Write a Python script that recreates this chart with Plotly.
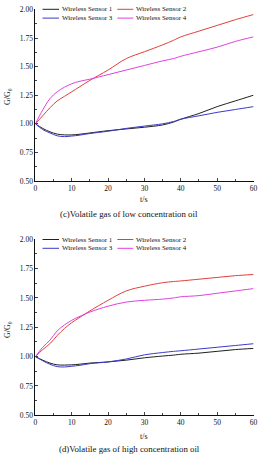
import plotly.graph_objects as go

t = [0, 2, 4, 6, 8, 10, 12, 15, 20, 25, 30, 35, 38, 40, 45, 50, 55, 60]

# (c) low concentration oil
c_s1 = [1.00, 0.96, 0.93, 0.91, 0.903, 0.903, 0.908, 0.92, 0.94, 0.955, 0.97, 0.99, 1.015, 1.04, 1.09, 1.15, 1.20, 1.25]
c_s2 = [1.00, 1.07, 1.14, 1.20, 1.24, 1.28, 1.32, 1.38, 1.47, 1.57, 1.63, 1.69, 1.73, 1.76, 1.81, 1.86, 1.91, 1.955]
c_s3 = [1.00, 0.95, 0.92, 0.895, 0.888, 0.893, 0.90, 0.915, 0.935, 0.96, 0.98, 1.00, 1.02, 1.04, 1.07, 1.10, 1.125, 1.15]
c_s4 = [1.00, 1.12, 1.22, 1.28, 1.32, 1.35, 1.37, 1.39, 1.43, 1.47, 1.51, 1.55, 1.57, 1.59, 1.63, 1.67, 1.72, 1.76]

# (d) high concentration oil
d_s1 = [1.00, 0.97, 0.945, 0.93, 0.928, 0.93, 0.935, 0.945, 0.955, 0.97, 0.99, 1.005, 1.013, 1.02, 1.03, 1.045, 1.06, 1.07]
d_s2 = [1.00, 1.06, 1.11, 1.18, 1.24, 1.29, 1.33, 1.39, 1.48, 1.56, 1.60, 1.63, 1.64, 1.645, 1.66, 1.675, 1.69, 1.70]
d_s3 = [1.00, 0.965, 0.935, 0.915, 0.912, 0.918, 0.925, 0.94, 0.955, 0.98, 1.015, 1.035, 1.045, 1.05, 1.065, 1.08, 1.095, 1.11]
d_s4 = [1.00, 1.08, 1.14, 1.22, 1.27, 1.31, 1.34, 1.38, 1.43, 1.465, 1.48, 1.49, 1.50, 1.51, 1.52, 1.54, 1.56, 1.58]

names = ["Wireless Sensor 1", "Wireless Sensor 2", "Wireless Sensor 3", "Wireless Sensor 4"]
colors = ["#202020", "#e0403c", "#3a3ac8", "#e040e0"]
yticks = [0.50, 0.75, 1.00, 1.25, 1.50, 1.75, 2.00]
xticks = [0, 10, 20, 30, 40, 50, 60]

W, H = 258, 457
FONT = "Liberation Serif, Times New Roman, serif"
INK = "#111"

fig = go.Figure()
for ser, nm, col in zip([c_s1, c_s2, c_s3, c_s4], names, colors):
    fig.add_trace(go.Scatter(x=t, y=ser, mode="lines", name=nm, line=dict(color=col, width=1, shape="spline"),
                             xaxis="x", yaxis="y", showlegend=False))
for ser, nm, col in zip([d_s1, d_s2, d_s3, d_s4], names, colors):
    fig.add_trace(go.Scatter(x=t, y=ser, mode="lines", name=nm, line=dict(color=col, width=1, shape="spline"),
                             xaxis="x2", yaxis="y2", showlegend=False))

xdom = [35.4 / W, 253.5 / W]
top_dom = [1 - 181 / H, 1 - 9.4 / H]
bot_dom = [1 - 415.3 / H, 1 - 239.3 / H]

def xax(anchor):
    return dict(domain=xdom, anchor=anchor, range=[0, 60], tickvals=xticks, ticks="inside", ticklen=3,
                showline=True, linecolor=INK, linewidth=1, showgrid=False, zeroline=False,
                tickfont=dict(family=FONT, size=7.5, color=INK), automargin=False,
                minor=dict(ticks="inside", ticklen=2, dtick=5, tick0=0, showgrid=False))

def yax(dom, anchor):
    return dict(domain=dom, anchor=anchor, range=[0.5, 2.0], tickvals=yticks, ticktext=[f"{v:.2f}" for v in yticks],
                ticks="inside", ticklen=3, showline=True, linecolor=INK, linewidth=1, showgrid=False,
                zeroline=False, tickfont=dict(family=FONT, size=7.5, color=INK), automargin=False,
                minor=dict(ticks="inside", ticklen=2, dtick=0.125, tick0=0.5, showgrid=False))

fig.update_layout(
    width=W, height=H, margin=dict(l=0, r=0, t=0, b=0), plot_bgcolor="white", paper_bgcolor="white",
    xaxis=xax("y"), yaxis=yax(top_dom, "x"),
    xaxis2=xax("y2"), yaxis2=yax(bot_dom, "x2"),
    showlegend=False,
    font=dict(family=FONT, color=INK),
)

# legends (two columns, inside each panel's top-left)
col_x = [(42.5, 59.0, 61.0), (117.3, 133.3, 135.0)]
for row_y0 in (9.3, 239.5):
    for i, (nm, col) in enumerate(zip(names, colors)):
        cx = col_x[i % 2]
        ry = row_y0 + (i // 2) * 8.8
        fig.add_shape(type="line", xref="paper", yref="paper", x0=cx[0] / W, x1=cx[1] / W,
                      y0=1 - ry / H, y1=1 - ry / H, line=dict(color=col, width=1))
        fig.add_annotation(text=nm, x=cx[2] / W, y=1 - ry / H, xref="paper", yref="paper", showarrow=False,
                           xanchor="left", yanchor="middle", borderpad=0,
                           font=dict(family=FONT, size=7, color=INK))

ann = [
    ("t/s", 144, 199, 0, 8),
    ("(c)Volatile gas of low concentration oil", 129, 214, 0, 8.8),
    ("t/s", 144, 436, 0, 8),
    ("(d)Volatile gas of high concentration oil", 129, 449, 0, 8.8),
    ("G/G<sub>0</sub>", 8, 97, -90, 8),
    ("G/G<sub>0</sub>", 8, 330, -90, 8),
]
for txt, px, py, ang, sz in ann:
    fig.add_annotation(text=txt, x=px / W, y=1 - py / H, xref="paper", yref="paper", showarrow=False,
                       textangle=ang, xanchor="center", yanchor="middle",
                       font=dict(family=FONT, size=sz, color=INK))

fig.write_html("out.html")
